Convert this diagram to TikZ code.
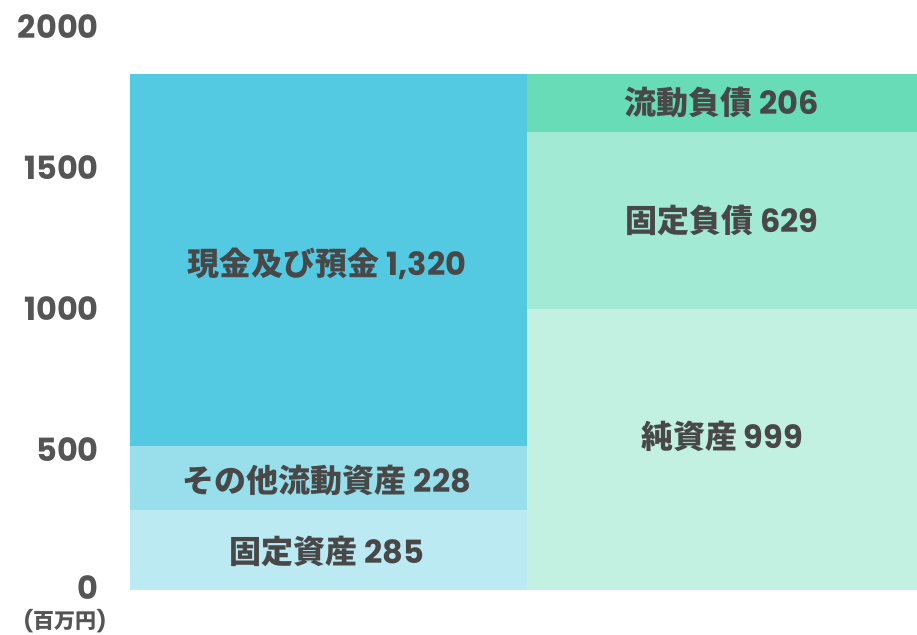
\documentclass[tikz,border=0pt]{standalone}
\usepackage{fontspec}
\setmainfont{Poppins}
\newfontfamily\jp{Noto Sans CJK JP}
\definecolor{cashc}{HTML}{54C9E2}
\definecolor{otherc}{HTML}{98DFEB}
\definecolor{fixac}{HTML}{BBEAF3}
\definecolor{curlc}{HTML}{68DCB6}
\definecolor{fixlc}{HTML}{A2EAD4}
\definecolor{netc}{HTML}{C2F0E1}
\definecolor{txt}{HTML}{484848}
\definecolor{axc}{HTML}{555555}
\tikzset{
  lbl/.style={font=\fontsize{32}{32}\selectfont\bfseries, text=txt, inner sep=0pt, anchor=center},
  axl/.style={font=\fontsize{32}{32}\selectfont\bfseries, text=axc, inner sep=0pt, anchor=east, text height=22pt, text depth=0pt},
  unitl/.style={font=\fontsize{21}{21}\selectfont\bfseries, text=axc, inner sep=0pt, anchor=center, text height=15pt, text depth=3pt}
}
\begin{document}
\begin{tikzpicture}[x=1pt,y=-1pt]
\useasboundingbox (0,0) rectangle (917,634);
% left bar
\fill[cashc]  (130,74)  rectangle (527,446);
\fill[otherc] (130,446) rectangle (527,510);
\fill[fixac]  (130,510) rectangle (527,590);
% right bar
\fill[curlc] (527,74)  rectangle (917,132);
\fill[fixlc] (527,132) rectangle (917,309);
\fill[netc]  (527,309) rectangle (917,590);
% labels
\node[lbl] (cash)  at (327,264) {{\jp 現金及び預金} 1,320};
\node[lbl] (other) at (327,480) {{\jp その他流動資産} 228};
\node[lbl] (fixa)  at (327,551) {{\jp 固定資産} 285};
\node[lbl] (curl)  at (722,102) {{\jp 流動負債} 206};
\node[lbl] (fixl)  at (722,220) {{\jp 固定負債} 629};
\node[lbl] (net)   at (722,436) {{\jp 純資産} 999};
% axis
\node[axl] (a2000) at (99,27)  {2000};
\node[axl] (a1500) at (99,168) {1500};
\node[axl] (a1000) at (99,309) {1000};
\node[axl] (a500)  at (99,450) {500};
\node[axl] (a0)    at (99,588) {0};
\node[unitl] (unit) at (65,622) {({\jp 百万円})};
\end{tikzpicture}
\end{document}
